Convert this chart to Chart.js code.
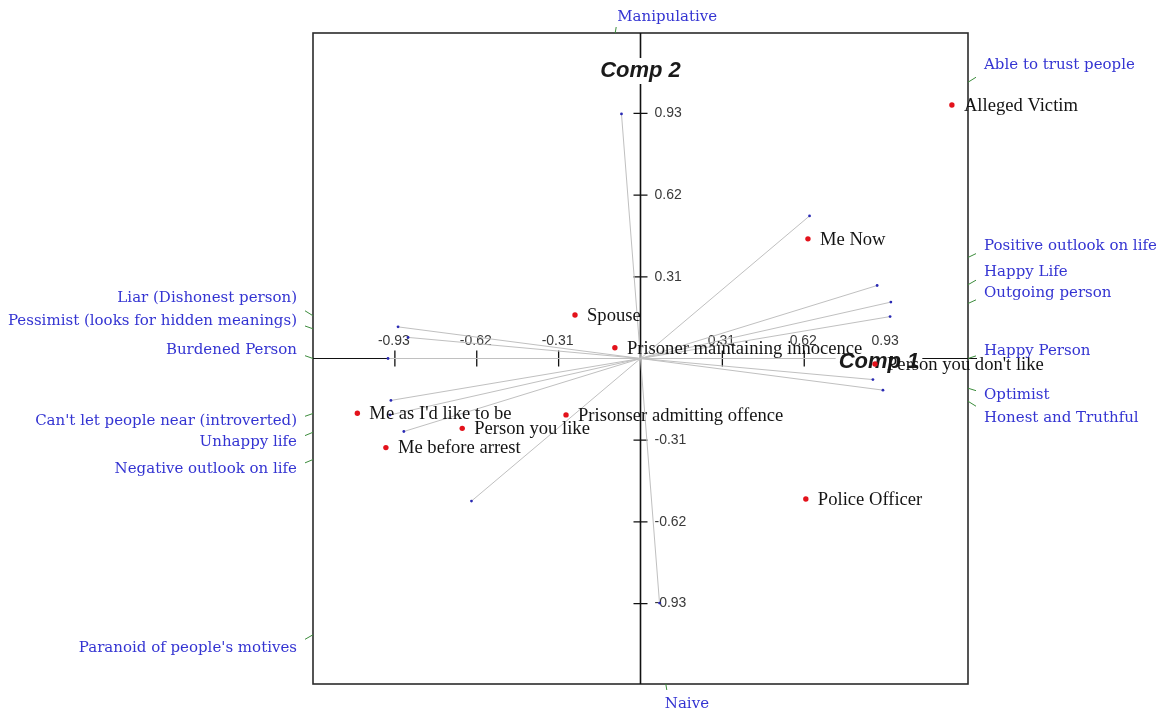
<!DOCTYPE html>
<html>
<head>
<meta charset="utf-8">
<script src="https://cdn.jsdelivr.net/npm/chart.js@4.4.1/dist/chart.umd.min.js"></script>
<style>
  html, body { margin: 0; padding: 0; background: #fff; }
  canvas { display: block; }
</style>
</head>
<body>
<canvas id="biplot" width="1171" height="715"></canvas>
<script>
// Elements: scores on the first two components
const elementNames = ['Alleged Victim', 'Me Now', 'Spouse', 'Prisoner maintaining innocence',
  "Person you don't like", "Me as I'd like to be", 'Prisonser admitting offence',
  'Person you like', 'Me before arrest', 'Police Officer'];
const elementComp1 = [1.179, 0.634, -0.248, -0.097, 0.888, -1.072, -0.282, -0.675, -0.964, 0.626];
const elementComp2 = [0.962, 0.454, 0.165, 0.041, -0.021, -0.208, -0.214, -0.265, -0.338, -0.533];

// Constructs: loading of pole A; pole B lies at the mirrored point
const constructPoleA = ['Able to trust people', 'Positive outlook on life', 'Happy Life', 'Outgoing person',
  'Happy Person', 'Optimist', 'Honest and Truthful', 'Manipulative'];
const constructPoleB = ["Paranoid of people's motives", 'Negative outlook on life', 'Unhappy life',
  "Can't let people near (introverted)", 'Burdened Person', 'Pessimist (looks for hidden meanings)',
  'Liar (Dishonest person)', 'Naive'];
const constructComp1 = [0.640, 0.896, 0.948, 0.945, 0.956, 0.880, 0.918, -0.072];
const constructComp2 = [0.541, 0.277, 0.214, 0.159, 0.000, -0.080, -0.120, 0.928];

// Axis ticks and titles
const tickValues = [-0.93, -0.62, -0.31, 0.31, 0.62, 0.93];
const tickLabels = ['-0.93', '-0.62', '-0.31', '0.31', '0.62', '0.93'];
const axisTitles = ['Comp 1', 'Comp 2'];

// Pole label nudges (px) so that neighbouring labels do not collide
const poleAShift = [[0, -17], [0, -11], [0, -13], [0, -10.5], [0, -7.5], [0, 7], [0, 17], [2, -16]];
const poleBShift = [[0, 13], [0, 9.5], [0, 9.5], [0, 8], [0, -8], [0, -8], [0, -18], [-1, 20]];

const BLUE = '#3434d2';
const GREEN = '#3c8c3c';
const LABEL_FONT = '15px "DejaVu Serif", serif';
const ELEMENT_FONT = '18.6px "Liberation Serif", "Times New Roman", serif';
const TICK_FONT = '14px "Liberation Sans Narrow", "Liberation Sans", Arial, sans-serif';
const TITLE_FONT = 'italic bold 22px "Liberation Sans", Arial, sans-serif';

const elementData = elementNames.map((n, i) => ({ x: elementComp1[i], y: elementComp2[i] }));

const constructSets = constructPoleA.map((n, i) => ({
  label: n + ' / ' + constructPoleB[i],
  data: [
    { x: -constructComp1[i], y: -constructComp2[i] },
    { x: constructComp1[i], y: constructComp2[i] }
  ],
  showLine: true,
  borderColor: '#c0c0c0',
  borderWidth: 1,
  pointRadius: 1.4,
  pointBackgroundColor: '#2a2ab4',
  pointBorderWidth: 0
}));

const biplotPlugin = {
  id: 'biplot',
  beforeDraw(chart) {
    const ctx = chart.ctx;
    ctx.save();
    ctx.fillStyle = '#fff';
    ctx.fillRect(0, 0, chart.width, chart.height);
    ctx.restore();
  },
  beforeDatasetsDraw(chart) {
    const { ctx, chartArea: a, scales: { x, y } } = chart;
    const x0 = x.getPixelForValue(0), y0 = y.getPixelForValue(0);
    ctx.save();
    // frame
    ctx.strokeStyle = '#2b2b2b';
    ctx.lineWidth = 1.6;
    ctx.strokeRect(a.left, a.top, a.right - a.left, a.bottom - a.top);
    // axes
    ctx.strokeStyle = '#111';
    ctx.lineWidth = 1;
    ctx.beginPath();
    ctx.moveTo(a.left, y0); ctx.lineTo(a.right + 9, y0);
    ctx.stroke();
    ctx.lineWidth = 1.6;
    ctx.beginPath();
    ctx.moveTo(x0, a.top); ctx.lineTo(x0, a.bottom);
    ctx.stroke();
    // ticks
    ctx.lineWidth = 1.3;
    ctx.beginPath();
    tickValues.forEach(v => {
      const px = x.getPixelForValue(v), py = y.getPixelForValue(v);
      ctx.moveTo(px, y0 - 8); ctx.lineTo(px, y0 + 8);
      ctx.moveTo(x0 - 7, py); ctx.lineTo(x0 + 7, py);
    });
    ctx.stroke();
    ctx.fillStyle = '#3a3a3a';
    ctx.font = TICK_FONT;
    ctx.textBaseline = 'middle';
    tickValues.forEach((v, i) => {
      ctx.textAlign = 'center';
      ctx.fillText(tickLabels[i], x.getPixelForValue(v) - 1, y0 - 17);
      ctx.textAlign = 'left';
      ctx.fillText(tickLabels[i], x0 + 14, y.getPixelForValue(v));
    });
    ctx.restore();
  },
  beforeDatasetDraw(chart, args) {
    if (args.index !== 0) return;
    // axis titles sit on top of the construct lines, under the elements
    const { ctx, chartArea: a, scales: { x, y } } = chart;
    const x0 = x.getPixelForValue(0), y0 = y.getPixelForValue(0);
    ctx.save();
    ctx.font = TITLE_FONT;
    ctx.textBaseline = 'middle';
    ctx.textAlign = 'center';
    const titles = [
      { t: axisTitles[0], cx: a.right - 89, cy: y0 + 3 },
      { t: axisTitles[1], cx: x0, cy: a.top + 38 }
    ];
    titles.forEach(o => {
      const w = ctx.measureText(o.t).width;
      ctx.fillStyle = '#fff';
      ctx.fillRect(o.cx - w / 2 - 3, o.cy - 13, w + 6, 26);
      ctx.fillStyle = '#1a1a1a';
      ctx.fillText(o.t, o.cx, o.cy);
    });
    ctx.restore();
  },
  afterDatasetsDraw(chart) {
    const { ctx, scales: { x, y } } = chart;
    ctx.save();
    ctx.font = ELEMENT_FONT;
    ctx.fillStyle = '#141414';
    ctx.textAlign = 'left';
    ctx.textBaseline = 'middle';
    elementNames.forEach((n, i) => {
      ctx.fillText(n, x.getPixelForValue(elementComp1[i]) + 12, y.getPixelForValue(elementComp2[i]) + 1);
    });
    ctx.restore();
  },
  afterDraw(chart) {
    const { ctx, chartArea: a, scales: { x, y } } = chart;
    const x0 = x.getPixelForValue(0), y0 = y.getPixelForValue(0);
    ctx.save();
    ctx.font = LABEL_FONT;
    ctx.textBaseline = 'middle';
    const placePole = (name, vx, vy, shift) => {
      const px = x.getPixelForValue(vx) - x0, py = y.getPixelForValue(vy) - y0;
      // where the construct line meets the frame
      const tx = px !== 0 ? (px > 0 ? (a.right - x0) / px : (a.left - x0) / px) : Infinity;
      const ty = py !== 0 ? (py > 0 ? (a.bottom - y0) / py : (a.top - y0) / py) : Infinity;
      const t = Math.min(tx, ty);
      const ix = x0 + px * t, iy = y0 + py * t;
      ctx.strokeStyle = GREEN;
      ctx.lineWidth = 1;
      ctx.fillStyle = BLUE;
      ctx.beginPath();
      if (tx <= ty) {
        const dir = px > 0 ? 1 : -1;
        const bend = Math.max(-5, Math.min(5, shift[1] * 0.35));
        ctx.moveTo(ix, iy);
        ctx.lineTo(ix + dir * 8, iy + bend);
        ctx.stroke();
        ctx.textAlign = dir > 0 ? 'left' : 'right';
        ctx.fillText(name, ix + dir * 16 + shift[0], iy + shift[1]);
      } else {
        const dir = py > 0 ? 1 : -1;
        ctx.moveTo(ix, iy);
        ctx.lineTo(ix + 1, iy + dir * 6);
        ctx.stroke();
        ctx.textAlign = 'left';
        ctx.fillText(name, ix + shift[0], iy + shift[1]);
      }
    };
    constructPoleA.forEach((n, i) => {
      placePole(n, constructComp1[i], constructComp2[i], poleAShift[i]);
      placePole(constructPoleB[i], -constructComp1[i], -constructComp2[i], poleBShift[i]);
    });
    ctx.restore();
  }
};

new Chart(document.getElementById('biplot'), {
  type: 'scatter',
  data: {
    datasets: [
      {
        label: 'Elements',
        data: elementData,
        pointRadius: 2.7,
        pointBackgroundColor: '#e3121b',
        pointBorderWidth: 0
      },
      ...constructSets
    ]
  },
  options: {
    responsive: false,
    animation: false,
    events: [],
    layout: { padding: { left: 313, right: 203, top: 33, bottom: 31 } },
    scales: {
      x: { type: 'linear', min: -1.24, max: 1.24, display: false },
      y: { type: 'linear', min: -1.235, max: 1.235, display: false }
    },
    plugins: {
      legend: { display: false },
      tooltip: { enabled: false },
      title: { display: false }
    }
  },
  plugins: [biplotPlugin]
});
</script>
</body>
</html>
